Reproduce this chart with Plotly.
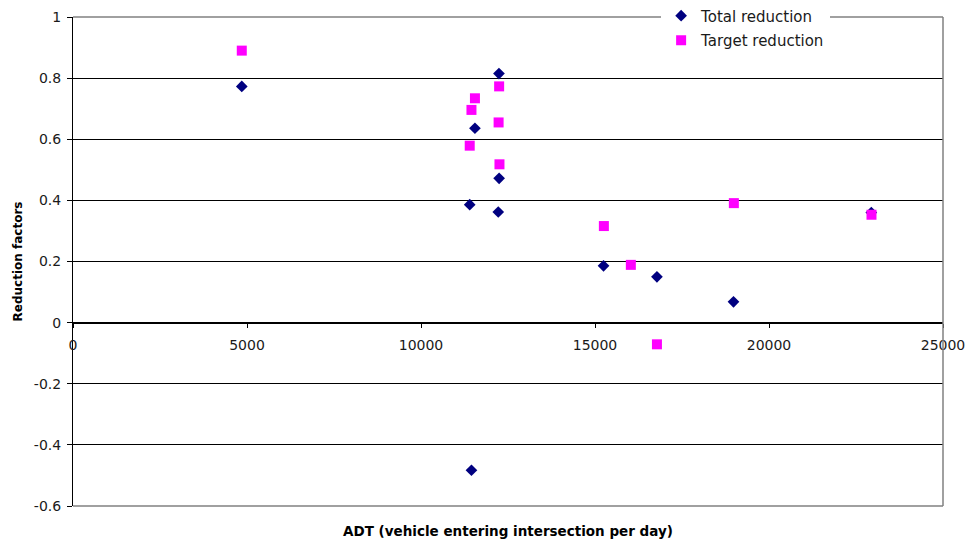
import plotly.graph_objects as go

# ADT (vehicles entering intersection per day) and reduction factors
total_adt = [4850, 12240, 11550, 12245, 11400, 12220, 15245, 16780, 18980, 22940, 11450]
total_red = [0.773, 0.815, 0.636, 0.472, 0.386, 0.362, 0.186, 0.150, 0.068, 0.360, -0.483]

target_adt = [4850, 12245, 11550, 11450, 12230, 11400, 12255, 15255, 16030, 18990, 16780, 22945]
target_red = [0.890, 0.773, 0.734, 0.696, 0.655, 0.579, 0.518, 0.316, 0.189, 0.391, -0.071, 0.353]

x_ticks = [0, 5000, 10000, 15000, 20000, 25000]
x_tick_text = ["0", "5000", "10000", "15000", "20000", "25000"]
y_ticks = [1, 0.8, 0.6, 0.4, 0.2, 0, -0.2, -0.4, -0.6]
y_tick_text = ["1", "0.8", "0.6", "0.4", "0.2", "0", "-0.2", "-0.4", "-0.6"]

FONT = "DejaVu Sans, Verdana, sans-serif"
Y_MIN, Y_MAX = -0.6, 1.0
TEXT = "#1a1a1a"

fig = go.Figure()
fig.add_trace(go.Scatter(
    x=total_adt, y=total_red, mode="markers", name="Total reduction",
    legendgroup="total",
    marker=dict(symbol="diamond", size=9, color="#000080", line=dict(width=0)),
))
fig.add_trace(go.Scatter(
    x=target_adt, y=target_red, mode="markers", name="Target reduction",
    legendgroup="target",
    marker=dict(symbol="square", size=10, color="#FF00FF", line=dict(width=0)),
))

fig.update_layout(
    width=966, height=543,
    margin=dict(l=73, r=23, t=17, b=37, autoexpand=False),
    paper_bgcolor="white", plot_bgcolor="white",
    font=dict(family=FONT, size=14, color=TEXT),
    showlegend=True,
    legend=dict(
        x=0.676, y=1.036, xanchor="left", yanchor="top",
        bgcolor="white", borderwidth=0,
        font=dict(family=FONT, size=15, color=TEXT),
        itemwidth=30, tracegroupgap=2,
    ),
    xaxis=dict(
        range=[0, 25000], tickvals=x_ticks, ticktext=x_tick_text,
        anchor="free", position=(0 - Y_MIN) / (Y_MAX - Y_MIN),
        showline=True, linecolor="black", linewidth=1,
        ticks="outside", ticklen=4, tickcolor="black",
        ticklabelstandoff=6,
        showgrid=False, zeroline=False, automargin=False,
        tickfont=dict(family=FONT, size=14, color=TEXT),
    ),
    yaxis=dict(
        range=[Y_MIN, Y_MAX], tickvals=y_ticks, ticktext=y_tick_text,
        showline=True, linecolor="black", linewidth=1,
        ticks="outside", ticklen=5, tickcolor="black",
        ticklabelstandoff=3,
        showgrid=True, gridcolor="black", gridwidth=1,
        zeroline=False, automargin=False,
        tickfont=dict(family=FONT, size=14, color=TEXT),
        title=dict(text="<b>Reduction factors</b>", standoff=8,
                   font=dict(family=FONT, size=12, color="black")),
    ),
    shapes=[
        dict(type="line", xref="paper", yref="paper", x0=0, x1=1, y0=1, y1=1,
             line=dict(color="#808080", width=1.5), layer="above"),
        dict(type="line", xref="paper", yref="paper", x0=1, x1=1, y0=0, y1=1,
             line=dict(color="#808080", width=1.5), layer="above"),
        dict(type="line", xref="paper", yref="paper", x0=0, x1=1, y0=0, y1=0,
             line=dict(color="#808080", width=1.5), layer="above"),
    ],
    annotations=[
        dict(text="<b>ADT (vehicle entering intersection per day)</b>",
             xref="paper", yref="paper", x=0.5, y=-0.052,
             xanchor="center", yanchor="middle", showarrow=False,
             font=dict(family=FONT, size=13.5, color="black")),
    ],
)

fig.write_html("out.html")
